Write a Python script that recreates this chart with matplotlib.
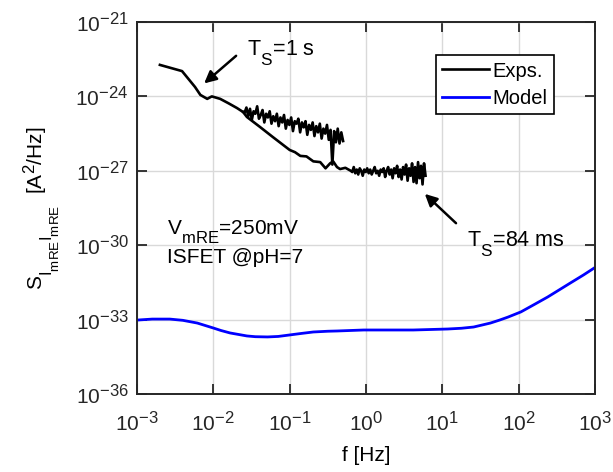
import numpy as np
import matplotlib
import matplotlib.pyplot as plt

plt.rcParams['font.family'] = ['Liberation Sans', 'DejaVu Sans']
plt.rcParams['mathtext.default'] = 'regular'
# MATLAB-like larger, deeper sub/superscripts
matplotlib._mathtext.SHRINK_FACTOR = 0.8
matplotlib._mathtext.FontConstantsBase.sub1 = 0.85

# Ts = 1 s measurement: smooth start (log10 f, log10 S)
ts1_logf = [-2.70, -2.41, -2.24, -2.17, -2.08, -2.02, -1.91, -1.80, -1.69, -1.61]
ts1_logS = [-22.73, -22.98, -23.62, -23.94, -24.10, -24.00, -24.10, -24.28, -24.47, -24.63]
# Ts = 1 s noisy tail from 10^-1.61 to 10^-0.30 Hz
ts1_noise_range = (-1.59, -0.30)
ts1_noise_logS = [-24.65, -24.45, -24.80, -24.50, -24.95, -24.60, -24.70, -24.40, -24.90, -24.75,
                  -24.55, -25.05, -24.70, -24.85, -24.60, -25.10, -24.80, -25.00, -24.70, -25.20,
                  -24.85, -25.05, -24.75, -25.30, -24.95, -25.15, -24.85, -25.40, -25.00, -25.10,
                  -24.90, -25.45, -25.05, -25.25, -25.00, -25.55, -25.15, -25.35, -25.05, -25.60,
                  -25.20, -25.45, -25.10, -25.70, -25.30, -25.50, -25.15, -25.75, -25.35, -26.75,
                  -25.40, -25.85, -25.30, -25.90, -25.45, -25.80]

# Ts = 84 ms measurement: smooth part
ts84_logf = [-1.61, -1.56, -1.39, -1.22, -1.00, -0.93, -0.86, -0.78, -0.69, -0.60,
             -0.53, -0.47, -0.43, -0.38, -0.34, -0.27, -0.20]
ts84_logS = [-24.63, -24.83, -25.23, -25.64, -26.16, -26.25, -26.40, -26.42, -26.62, -26.65,
             -26.90, -26.70, -26.62, -26.85, -26.93, -26.88, -27.00]
# Ts = 84 ms noisy flat part up to ~6 Hz
ts84_noise_range = (-0.18, 0.78)
ts84_noise_logS = [-27.05, -26.85, -27.10, -26.95, -27.15, -26.90, -27.00, -27.20, -26.95, -27.05,
                   -26.90, -27.10, -26.95, -27.15, -27.00, -26.85, -27.10, -27.00, -27.20, -26.95,
                   -27.05, -26.90, -27.25, -27.00, -26.85, -27.15, -26.95, -27.30, -26.90, -27.10,
                   -26.80, -27.25, -26.95, -27.35, -26.85, -27.15, -26.75, -27.40, -26.90, -27.20,
                   -26.70, -27.45, -26.85, -27.50, -26.65, -27.30, -26.80, -27.55, -26.70, -27.20]

# Model
model_logf = [-3.00, -2.80, -2.57, -2.40, -2.21, -2.00, -1.90, -1.78, -1.56, -1.45,
              -1.29, -1.15, -1.00, -0.85, -0.69, -0.50, -0.38, -0.03, 0.30, 0.62,
              1.07, 1.25, 1.41, 1.63, 1.75, 1.86, 2.03, 2.20, 2.38, 2.68, 2.85, 3.00]
model_logS = [-33.02, -32.98, -32.98, -33.03, -33.14, -33.34, -33.44, -33.54, -33.66, -33.69,
              -33.70, -33.68, -33.62, -33.56, -33.50, -33.47, -33.46, -33.42, -33.42, -33.42,
              -33.38, -33.35, -33.30, -33.14, -33.02, -32.90, -32.69, -32.40, -32.09, -31.52,
              -31.20, -30.90]

yticks_exp = [-36, -33, -30, -27, -24, -21]
xticks_exp = [-3, -2, -1, 0, 1, 2, 3]

fig = plt.figure(figsize=(6.13, 4.72), dpi=100)
ax = fig.add_axes([0.2235, 0.1653, 0.7471, 0.7881])

f1 = np.concatenate([10.0 ** np.array(ts1_logf),
                     np.logspace(*ts1_noise_range, len(ts1_noise_logS))])
s1 = 10.0 ** np.concatenate([ts1_logS, ts1_noise_logS])
f2 = np.concatenate([10.0 ** np.array(ts84_logf),
                     np.logspace(*ts84_noise_range, len(ts84_noise_logS))])
s2 = 10.0 ** np.concatenate([ts84_logS, ts84_noise_logS])

ax.loglog(f1, s1, color='k', lw=1.9, label='Exps.')
ax.loglog(f2, s2, color='k', lw=1.9)
ax.loglog(10.0 ** np.array(model_logf), 10.0 ** np.array(model_logS), color='#0000ff', lw=2, label='Model')

ax.set_xlim(1e-3, 1e3)
ax.set_ylim(1e-36, 1e-21)
ax.set_xticks([10.0 ** e for e in xticks_exp])
ax.set_xticklabels([r'$10^{%d}$' % e for e in xticks_exp])
ax.set_yticks([10.0 ** e for e in yticks_exp])
ax.set_yticklabels([r'$10^{%d}$' % e for e in yticks_exp])
ax.minorticks_off()
ax.tick_params(direction='in', length=7, width=1.3, top=True, right=True,
               labelsize=15, colors='#262626', pad=6)
ax.tick_params(axis='x', pad=12)
ax.grid(True, color='#d9d9d9', lw=1)
for sp in ax.spines.values():
    sp.set_color('#262626')
    sp.set_linewidth(1.4)

ax.set_xlabel('f [Hz]', fontsize=15, labelpad=8)
ax.set_ylabel(r'$S_{I_{mRE}I_{mRE}}$  [A$^2$/Hz]', fontsize=15, labelpad=9)

ax.text(0.240, 0.909, r'T$_S$=1 s', transform=ax.transAxes, fontsize=15.5, va='baseline')
ax.annotate('', xy=(0.142, 0.830), xytext=(0.221, 0.914), xycoords='axes fraction',
            arrowprops=dict(arrowstyle='-|>', color='k', lw=1.8, mutation_scale=18))
ax.text(0.720, 0.395, r'T$_S$=84 ms', transform=ax.transAxes, fontsize=15.5, va='baseline')
ax.annotate('', xy=(0.624, 0.543), xytext=(0.701, 0.454), xycoords='axes fraction',
            arrowprops=dict(arrowstyle='-|>', color='k', lw=1.8, mutation_scale=18))
ax.text(0.066, 0.427, r'V$_{mRE}$=250mV', transform=ax.transAxes, fontsize=15, va='baseline')
ax.text(0.066, 0.352, 'ISFET @pH=7', transform=ax.transAxes, fontsize=15, va='baseline')

leg = ax.legend(loc='upper right', bbox_to_anchor=(0.910, 0.910), fontsize=14.5,
                fancybox=False, framealpha=1, edgecolor='k', handlelength=2.3,
                handletextpad=0.2, borderpad=0.3, labelspacing=0.4, borderaxespad=0)
leg.get_frame().set_linewidth(1.2)

fig.savefig('out.png', dpi=100)
